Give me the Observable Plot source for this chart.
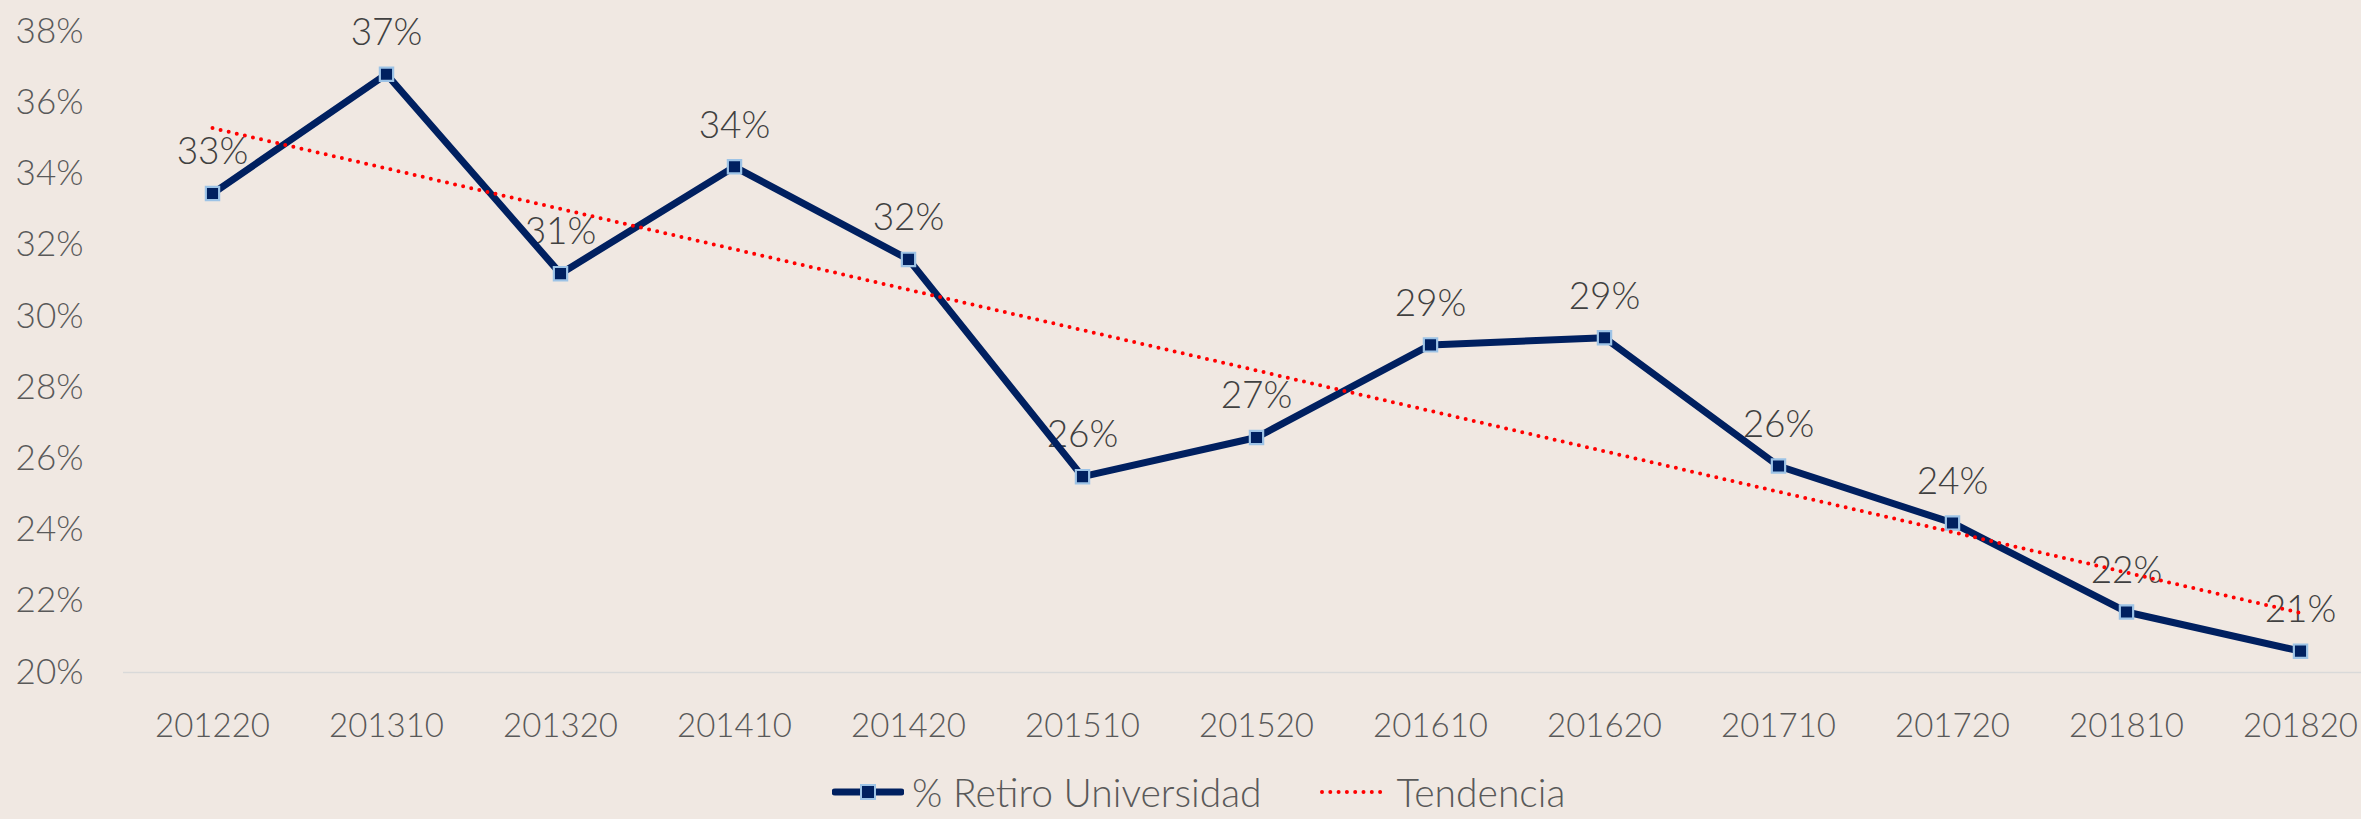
<!DOCTYPE html>
<html>
<head>
<meta charset="utf-8">
<script src="https://cdn.jsdelivr.net/npm/d3@7"></script>
<script src="https://cdn.jsdelivr.net/npm/@observablehq/plot@0.6"></script>
<style>
  html, body { margin: 0; padding: 0; background: #F0E8E2; }
  #wrap { position: relative; width: 2361px; height: 819px; overflow: hidden; font-family: Lato, "Open Sans", sans-serif; font-weight: 300; }
  #legend { position: absolute; top: 770px; left: 832px; height: 44px; display: flex; align-items: center; font-size: 39px; color: #595959; white-space: nowrap; line-height: 1; }
  #legend svg { display: block; }
</style>
</head>
<body>
<div id="wrap">
  <div id="chart"></div>
  <div id="legend">
    <svg width="72" height="24"><line x1="3" y1="12" x2="69" y2="12" stroke="#002060" stroke-width="7" stroke-linecap="round"/><rect x="29" y="5" width="14" height="14" fill="#002060" stroke="#9DC3E6" stroke-width="2"/></svg>
    <span style="margin-left:8px">% Retiro Universidad</span>
    <svg width="68" height="24" style="margin-left:57px"><line x1="3" y1="12" x2="66" y2="12" stroke="#FF0000" stroke-width="4" stroke-linecap="round" stroke-dasharray="0 8.3"/></svg>
    <span style="margin-left:10px">Tendencia</span>
  </div>
</div>
<script>
const categories = ["201220","201310","201320","201410","201420","201510","201520","201610","201620","201710","201720","201810","201820"];
const values = [0.3345, 0.368, 0.312, 0.342, 0.316, 0.255, 0.266, 0.292, 0.294, 0.258, 0.242, 0.217, 0.206];
const yTicks = [0.20, 0.22, 0.24, 0.26, 0.28, 0.30, 0.32, 0.34, 0.36, 0.38];

const data = categories.map((c, i) => ({cat: c, i, v: values[i]}));

// linear trend (least squares) over category index
const mx = d3.mean(data, d => d.i);
const my = d3.mean(data, d => d.v);
const slope = d3.sum(data, d => (d.i - mx) * (d.v - my)) / d3.sum(data, d => (d.i - mx) ** 2);
const trend = data.map(d => ({cat: d.cat, t: my + slope * (d.i - mx)}));

const pct = d3.format(".0%");

const chart = Plot.plot({
  width: 2361,
  height: 770,
  marginLeft: 123,
  marginRight: 0,
  marginTop: 0,
  marginBottom: 98,
  style: {background: "transparent", fontFamily: "Lato, 'Open Sans', sans-serif", fontSize: "35px", fontWeight: 300, color: "#595959", overflow: "visible"},
  x: {type: "point", domain: categories, range: [209, 2303], padding: 0, label: null, tickSize: 0, tickPadding: 41, fontSize: 33},
  y: {domain: [0.2, 0.38], range: [672, 31], ticks: yTicks, tickFormat: pct, tickSize: 0, tickPadding: 40, label: null},
  marks: [
    Plot.ruleY([0.2], {stroke: "#D9D9D9", strokeWidth: 1.5}),
    Plot.axisX({tickSize: 0, tickPadding: 41, fontSize: 33, label: null}),
    Plot.axisY({ticks: yTicks, tickFormat: pct, tickSize: 0, tickPadding: 40, label: null}),
    Plot.text(data, {x: "cat", y: "v", text: d => pct(d.v), dy: -41, fill: "#404040", fontSize: 37}),
    Plot.line(data, {x: "cat", y: "v", stroke: "#002060", strokeWidth: 7}),
    Plot.dot(data, {x: "cat", y: "v", symbol: "square", r: 7.5, fill: "#002060", stroke: "#9DC3E6", strokeWidth: 2.2}),
    Plot.line(trend, {x: "cat", y: "t", stroke: "#FF0000", strokeWidth: 4, strokeDasharray: "0 8.3", strokeLinecap: "round"})
  ]
});
document.getElementById("chart").appendChild(chart);
</script>
</body>
</html>
